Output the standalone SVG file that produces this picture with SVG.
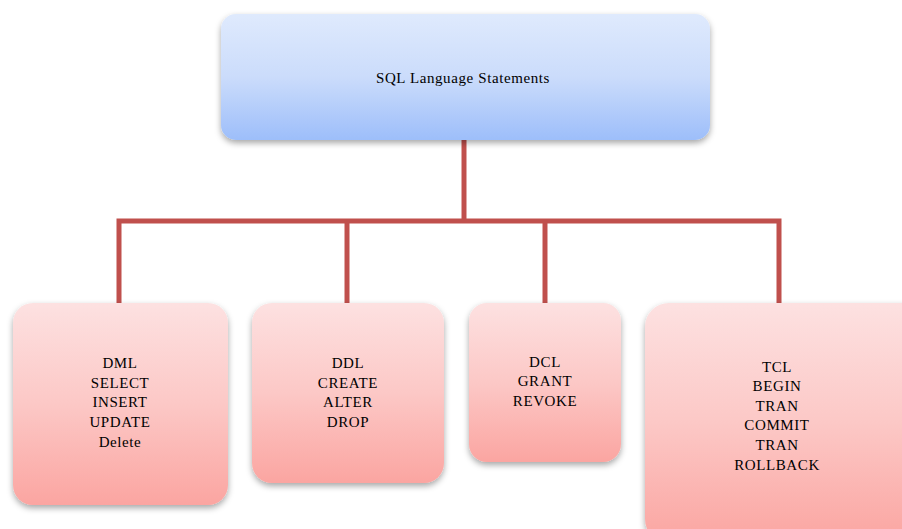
<svg xmlns="http://www.w3.org/2000/svg" width="902" height="529" viewBox="0 0 902 529">
<defs>
<linearGradient id="blue" x1="0" y1="0" x2="0" y2="1">
<stop offset="0" stop-color="#dfeafd"/>
<stop offset="0.5" stop-color="#cbdcfb"/>
<stop offset="1" stop-color="#9dbefa"/>
</linearGradient>
<linearGradient id="pink" x1="0" y1="0" x2="0" y2="1">
<stop offset="0" stop-color="#fde1e1"/>
<stop offset="0.5" stop-color="#fcc8c6"/>
<stop offset="1" stop-color="#fba5a1"/>
</linearGradient>
<filter id="sh" x="-10%" y="-10%" width="120%" height="130%">
<feDropShadow dx="0" dy="3" stdDeviation="3" flood-color="#000" flood-opacity="0.35"/>
</filter>
<style>
.t{font-family:'Liberation Serif','DejaVu Serif',serif;font-size:15px;letter-spacing:0.6px;fill:#000;text-anchor:middle}
.c{fill:none;stroke:#c0504d;stroke-width:5;stroke-linejoin:miter}
</style>
</defs>
<g id="connectors">
<path class="c" d="M464 140 V221"/>
<path class="c" d="M119 303 V221 H779 V303"/>
<path class="c" d="M347 221 V303"/>
<path class="c" d="M545 221 V303"/>
</g>
<g id="root">
<rect x="221" y="14" width="489" height="126" rx="15" fill="url(#blue)" filter="url(#sh)"/>
<text class="t" x="463" y="83">SQL Language Statements</text>
</g>
<g id="dml">
<rect x="13" y="303" width="215" height="202" rx="20" fill="url(#pink)" filter="url(#sh)"/>
<text class="t" x="120" y="368">DML</text>
<text class="t" x="120" y="388">SELECT</text>
<text class="t" x="120" y="407">INSERT</text>
<text class="t" x="120" y="427">UPDATE</text>
<text class="t" x="120" y="447">Delete</text>
</g>
<g id="ddl">
<rect x="252" y="303" width="192" height="180" rx="20" fill="url(#pink)" filter="url(#sh)"/>
<text class="t" x="348" y="368">DDL</text>
<text class="t" x="348" y="388">CREATE</text>
<text class="t" x="348" y="407">ALTER</text>
<text class="t" x="348" y="427">DROP</text>
</g>
<g id="dcl">
<rect x="469" y="303" width="152" height="159" rx="18" fill="url(#pink)" filter="url(#sh)"/>
<text class="t" x="545" y="367">DCL</text>
<text class="t" x="545" y="386">GRANT</text>
<text class="t" x="545" y="406">REVOKE</text>
</g>
<g id="tcl">
<rect x="645" y="303" width="280" height="240" rx="24" fill="url(#pink)" filter="url(#sh)"/>
<text class="t" x="777" y="372">TCL</text>
<text class="t" x="777" y="391">BEGIN</text>
<text class="t" x="777" y="411">TRAN</text>
<text class="t" x="777" y="430">COMMIT</text>
<text class="t" x="777" y="450">TRAN</text>
<text class="t" x="777" y="470">ROLLBACK</text>
</g>
</svg>
